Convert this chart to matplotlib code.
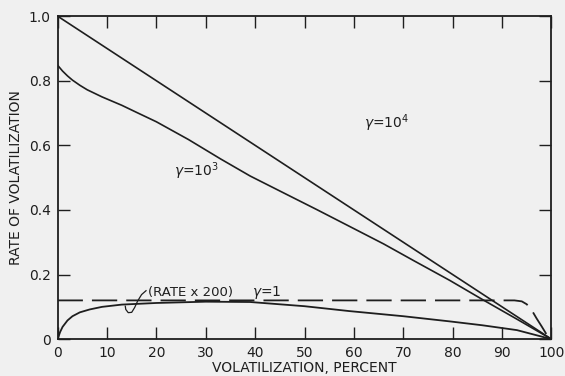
import numpy as np
import matplotlib.pyplot as plt

# volatilization curves, read at a handful of percent values
pct_1e4 = [0, 100]
rate_1e4 = [1.0, 0.0]

pct_1e3 = [0, 1, 2, 3, 4.5, 6, 9, 13, 16, 20, 26.5, 33, 39, 46, 52.5, 59, 66, 72, 79.4, 86, 93, 100]
rate_1e3 = [0.848, 0.83, 0.815, 0.802, 0.786, 0.772, 0.75, 0.724, 0.702, 0.673, 0.618, 0.558,
            0.505, 0.451, 0.401, 0.35, 0.295, 0.244, 0.182, 0.123, 0.062, 0.0]

pct_1 = [0, 0.5, 1, 2, 3, 4.5, 6.5, 9, 13, 20, 30, 39, 50, 59, 70, 79.4, 86, 93, 100]
rate_1 = [0.0, 0.022, 0.038, 0.058, 0.071, 0.083, 0.092, 0.1, 0.107, 0.112, 0.116, 0.115, 0.102,
          0.087, 0.071, 0.055, 0.043, 0.028, 0.0]

pct_dash = [0, 92.5, 94, 95, 96, 97, 98, 99, 100]
rate_dash = [0.12, 0.12, 0.117, 0.108, 0.09, 0.064, 0.04, 0.015, 0.0]

# little hook pointing from the "(RATE x 200)" label to the curve
hook_x = [17.9, 17.0, 16.2, 15.6, 15.0, 14.3, 13.8, 13.7]
hook_y = [0.150, 0.138, 0.118, 0.098, 0.083, 0.082, 0.092, 0.102]

xticks = list(range(0, 101, 10))
yticks = [0, 0.2, 0.4, 0.6, 0.8, 1.0]
ylabels = ['0', '0.2', '0.4', '0.6', '0.8', '1.0']

ink = '#1e1e1e'
bg = '#f0f0f0'
plt.rcParams['font.family'] = ['DejaVu Sans']

fig = plt.figure(figsize=(5.65, 3.76), dpi=100, facecolor=bg)
ax = fig.add_axes([0.102, 0.098, 0.874, 0.859])
ax.set_facecolor(bg)

ax.plot(pct_1e4, rate_1e4, color=ink, lw=1.2)
ax.plot(pct_1e3, rate_1e3, color=ink, lw=1.2)
ax.plot(pct_1, rate_1, color=ink, lw=1.3)
ax.plot(pct_dash, rate_dash, color=ink, lw=1.3, dashes=(14, 5))
ax.plot(hook_x, hook_y, color=ink, lw=0.9)

ax.text(62, 0.655, r'$\gamma$=10$^4$', fontsize=10, color=ink)
ax.text(23.5, 0.505, r'$\gamma$=10$^3$', fontsize=10, color=ink)
ax.text(18.2, 0.135, '(RATE x 200)', fontsize=9.5, color=ink)
ax.text(39.3, 0.135, r'$\gamma$=1', fontsize=10, color=ink)

ax.set_xlim(0, 100)
ax.set_ylim(0, 1.0)
ax.set_xticks(xticks)
ax.set_yticks(yticks)
ax.set_yticklabels(ylabels)
ax.tick_params(direction='in', length=8.5, width=1.0, top=True, right=True,
               labelsize=10, colors=ink, pad=5)
for s in ax.spines.values():
    s.set_linewidth(1.3)
    s.set_color(ink)

ax.set_xlabel('VOLATILIZATION, PERCENT', fontsize=10, color=ink, labelpad=1)
ax.set_ylabel('RATE OF VOLATILIZATION', fontsize=10, color=ink, labelpad=4)

fig.savefig('out.png', dpi=100, facecolor=bg)
